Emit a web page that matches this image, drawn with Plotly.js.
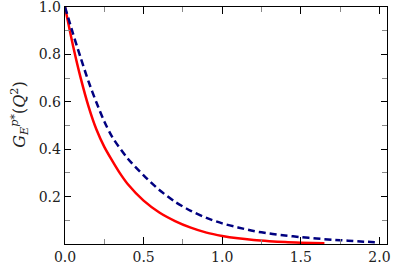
<!DOCTYPE html>
<html>
<head>
<meta charset="utf-8">
<script src="https://cdn.plot.ly/plotly-3.0.1.min.js"></script>
<style>html,body{margin:0;padding:0;background:#fff;}#chart{width:393px;height:263px;}</style>
</head>
<body>
<div id="chart"></div>
<script>
// Red solid curve
const redQ2 = [0, 0.05, 0.1, 0.15, 0.2, 0.25, 0.3, 0.35, 0.4, 0.5, 0.6, 0.7, 0.8, 0.9, 1.0, 1.1, 1.2, 1.3, 1.4, 1.5, 1.65];
const redGE = [1.0, 0.84, 0.70, 0.58, 0.483, 0.41, 0.352, 0.298, 0.252, 0.183, 0.133, 0.097, 0.069, 0.048, 0.034, 0.024, 0.017, 0.012, 0.008, 0.0055, 0.003];
// Navy dashed curve
const navyQ2 = [0, 0.05, 0.1, 0.15, 0.2, 0.25, 0.3, 0.4, 0.5, 0.6, 0.7, 0.8, 0.9, 1.0, 1.1, 1.2, 1.3, 1.4, 1.5, 1.6, 1.7, 1.8, 1.9, 2.0];
const navyGE = [1.0, 0.89, 0.785, 0.685, 0.597, 0.517, 0.452, 0.36, 0.29, 0.228, 0.178, 0.14, 0.11, 0.087, 0.07, 0.055, 0.044, 0.036, 0.029, 0.023, 0.018, 0.014, 0.010, 0.007];
// Tick labels
const xTickVals = [0, 0.5, 1.0, 1.5, 2.0];
const xTickText = ["0.0", "0.5", "1.0", "1.5", "2.0"];
const yTickVals = [0.2, 0.4, 0.6, 0.8, 1.0];
const yTickText = ["0.2", "0.4", "0.6", "0.8", "1.0"];
const yTitle = '<i>G</i><sub><i>E</i></sub><sup><i>p*</i></sup>(<i>Q</i><sup>2</sup>)';

const traces = [
  {x: redQ2, y: redGE, mode: 'lines', line: {color: '#ff0000', width: 2.5, shape: 'spline', smoothing: 0.8}, hoverinfo: 'skip'},
  {x: navyQ2, y: navyGE, mode: 'lines', line: {color: '#000080', width: 2.5, dash: '7px,4px', shape: 'spline', smoothing: 0.8}, hoverinfo: 'skip'}
];
const fontFam = 'DejaVu Serif, Liberation Serif, serif';
const layout = {
  width: 393, height: 263,
  margin: {l: 65, r: 6, t: 7, b: 19},
  showlegend: false,
  paper_bgcolor: '#fff', plot_bgcolor: '#fff',
  font: {family: fontFam, size: 14, color: '#222'},
  xaxis: {
    range: [0, 2.048], showgrid: false, zeroline: false,
    showline: true, linecolor: '#000', linewidth: 1.3, mirror: 'ticks',
    ticks: 'inside', ticklen: 7, tickwidth: 1.2, tickcolor: '#000',
    tickvals: xTickVals, ticktext: xTickText, ticklabeloverflow: 'allow',
    minor: {dtick: 0.25, ticks: 'inside', ticklen: 5, tickwidth: 1, tickcolor: '#888', showgrid: false},
    tickfont: {family: fontFam, size: 14, color: '#222'}
  },
  yaxis: {
    range: [0, 1.0], showgrid: false, zeroline: false,
    showline: true, linecolor: '#000', linewidth: 1.3, mirror: 'ticks',
    ticks: 'inside', ticklen: 6, tickwidth: 1.2, tickcolor: '#000',
    tickvals: yTickVals, ticktext: yTickText, ticklabeloverflow: 'allow',
    minor: {dtick: 0.1, ticks: 'inside', ticklen: 5, tickwidth: 1, tickcolor: '#888', showgrid: false},
    tickfont: {family: fontFam, size: 14, color: '#222'}
  },
  annotations: [{
    text: yTitle, xref: 'paper', yref: 'paper', x: -0.14, y: 0.545,
    xanchor: 'center', yanchor: 'middle', textangle: -90, showarrow: false,
    font: {family: fontFam, size: 16, color: '#222'}
  }]
};
Plotly.newPlot('chart', traces, layout, {staticPlot: true, displayModeBar: false});
</script>
</body>
</html>
